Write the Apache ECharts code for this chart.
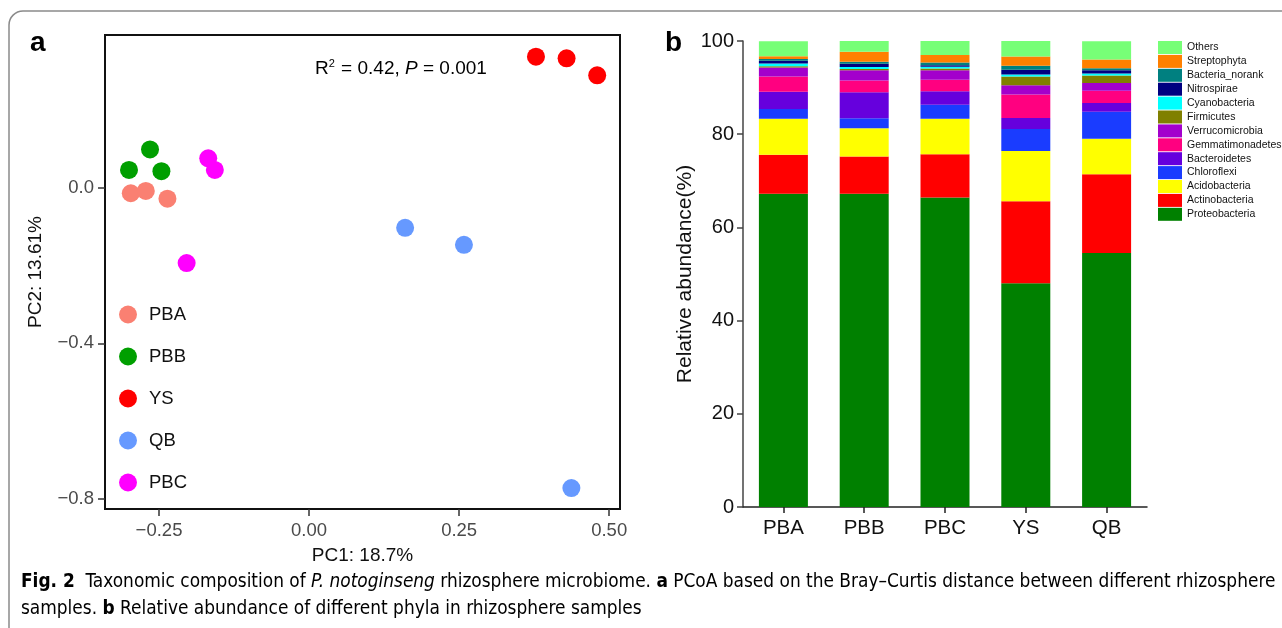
<!DOCTYPE html>
<html>
<head>
<meta charset="utf-8">
<script src="https://cdn.jsdelivr.net/npm/echarts@6/dist/echarts.min.js"></script>
<style>
html,body{margin:0;padding:0;background:#fff;}
#c{width:1282px;height:628px;}
</style>
</head>
<body>
<div id="c"></div>
<script>
// ---------- Panel a: PCoA ----------
const groupNames = ['PBA', 'PBB', 'YS', 'QB', 'PBC'];
const groupColors = ['#FA8072', '#009F00', '#FF0000', '#6699FF', '#FF00FF'];
const pbaPoints = [[-0.297, -0.013], [-0.272, -0.007], [-0.236, -0.027]];
const pbbPoints = [[-0.300, 0.047], [-0.265, 0.100], [-0.246, 0.044]];
const ysPoints = [[0.378, 0.339], [0.429, 0.335], [0.480, 0.291]];
const qbPoints = [[0.160, -0.102], [0.258, -0.146], [0.437, -0.773]];
const pbcPoints = [[-0.168, 0.077], [-0.157, 0.047], [-0.204, -0.193]];
const pcoaXRange = [-0.34, 0.518];
const pcoaYRange = [-0.827, 0.395];
const pcoaXTicks = [-0.25, 0, 0.25, 0.5];
const pcoaYTicks = [-0.8, -0.4, 0];

// ---------- Panel b: stacked relative abundance ----------
const barCategories = ['PBA', 'PBB', 'PBC', 'YS', 'QB'];
const proteobacteria   = [67.2, 67.2, 66.4, 48.0, 54.5];
const actinobacteria   = [8.4, 8.0, 9.3, 17.6, 16.9];
const acidobacteria    = [7.7, 6.1, 7.6, 10.8, 7.6];
const chloroflexi      = [2.1, 2.1, 3.0, 4.7, 5.8];
const bacteroidetes    = [3.7, 5.6, 2.9, 2.4, 1.9];
const gemmatimonadetes = [3.3, 2.5, 2.5, 5.0, 2.6];
const verrucomicrobia  = [1.9, 2.2, 2.0, 2.0, 1.7];
const firmicutes       = [0.3, 0.3, 0.4, 1.9, 1.6];
const cyanobacteria    = [0.55, 0.43, 0.36, 0.43, 0.43];
const nitrospirae      = [0.6, 0.7, 0.36, 1.0, 0.7];
const bacteriaNorank   = [0.4, 0.43, 0.57, 0.86, 0.43];
const streptophyta     = [0.6, 2.15, 1.6, 2.0, 1.86];
const others           = [3.2, 2.28, 3.0, 3.3, 3.93];

const phyla = [
  ['Proteobacteria', proteobacteria, '#008000'],
  ['Actinobacteria', actinobacteria, '#FF0000'],
  ['Acidobacteria', acidobacteria, '#FFFF00'],
  ['Chloroflexi', chloroflexi, '#1A3CFF'],
  ['Bacteroidetes', bacteroidetes, '#6600DD'],
  ['Gemmatimonadetes', gemmatimonadetes, '#FF0080'],
  ['Verrucomicrobia', verrucomicrobia, '#A300CC'],
  ['Firmicutes', firmicutes, '#808000'],
  ['Cyanobacteria', cyanobacteria, '#00FFFF'],
  ['Nitrospirae', nitrospirae, '#000080'],
  ['Bacteria_norank', bacteriaNorank, '#008080'],
  ['Streptophyta', streptophyta, '#FF8000'],
  ['Others', others, '#77FF77']
];

const FONT = "'Liberation Sans', Arial, sans-serif";
const NARROW = "'DejaVu Sans Condensed', 'Liberation Sans', sans-serif";

// PCoA plotting box (pixels)
const PB = {left: 105, top: 35, width: 515, height: 474};
const xSpan = pcoaXRange[1] - pcoaXRange[0];
const ySpan = pcoaYRange[1] - pcoaYRange[0];
const tx0 = PB.left + (pcoaXTicks[0] - pcoaXRange[0]) / xSpan * PB.width;
const tx1 = PB.left + (pcoaXTicks[pcoaXTicks.length - 1] - pcoaXRange[0]) / xSpan * PB.width;
const ty0 = PB.top + (pcoaYRange[1] - pcoaYTicks[pcoaYTicks.length - 1]) / ySpan * PB.height;
const ty1 = PB.top + (pcoaYRange[1] - pcoaYTicks[0]) / ySpan * PB.height;

const chart = echarts.init(document.getElementById('c'), null, {renderer: 'canvas'});

const scatterSeries = [pbaPoints, pbbPoints, ysPoints, qbPoints, pbcPoints].map((pts, i) => ({
  name: groupNames[i],
  type: 'scatter',
  xAxisIndex: 0, yAxisIndex: 0,
  symbol: 'circle',
  symbolSize: 18,
  itemStyle: {color: groupColors[i], opacity: 1},
  data: pts,
  z: 3
}));

const barSeries = phyla.map(([name, vals, color]) => ({
  name: name,
  type: 'bar',
  stack: 'ab',
  xAxisIndex: 1, yAxisIndex: 1,
  barWidth: 49,
  itemStyle: {color: color},
  data: vals
}));

const hiddenAxis = (gi) => ({gridIndex: gi, type: 'value', show: false, min: 0, max: 1});
const TICKCOL = '#333';

const option = {
  animation: false,
  backgroundColor: '#fff',
  textStyle: {fontFamily: FONT},
  grid: [
    {left: PB.left, top: PB.top, width: PB.width, height: PB.height, show: true, borderColor: '#111', borderWidth: 2, backgroundColor: 'transparent'},
    {left: 743, top: 41, width: 404, height: 466},
    {left: tx0, top: PB.top, width: tx1 - tx0, height: PB.height},
    {left: PB.left, top: ty0, width: PB.width, height: ty1 - ty0}
  ],
  xAxis: [
    {
      gridIndex: 0, type: 'value', min: pcoaXRange[0], max: pcoaXRange[1],
      name: 'PC1: 18.7%', nameLocation: 'middle', nameGap: 37,
      nameTextStyle: {fontSize: 19, color: '#111', fontFamily: FONT},
      axisLine: {show: false, onZero: false}, axisTick: {show: false}, axisLabel: {show: false},
      splitLine: {show: false}
    },
    {
      gridIndex: 1, type: 'category', data: barCategories,
      axisLine: {show: true, lineStyle: {color: '#222', width: 1.5}},
      axisTick: {show: true, alignWithLabel: true, length: 6, lineStyle: {color: '#222', width: 1.5}},
      axisLabel: {fontSize: 20.5, color: '#111', margin: 11, fontFamily: FONT},
      splitLine: {show: false}
    },
    {
      gridIndex: 2, type: 'value', min: pcoaXTicks[0], max: pcoaXTicks[pcoaXTicks.length - 1], interval: 0.25,
      position: 'bottom',
      axisLine: {show: true, onZero: false, lineStyle: {color: 'rgba(0,0,0,0)'}},
      axisTick: {show: true, inside: false, length: 7, lineStyle: {color: TICKCOL, width: 1.5}},
      axisLabel: {show: true, margin: 12, fontSize: 18.5, color: '#4a4a4a', fontFamily: FONT,
        showMinLabel: true, showMaxLabel: true,
        formatter: v => (v < 0 ? '\u2212' : '') + Math.abs(v).toFixed(2)},
      splitLine: {show: false}
    },
    hiddenAxis(3)
  ],
  yAxis: [
    {
      gridIndex: 0, type: 'value', min: pcoaYRange[0], max: pcoaYRange[1],
      name: 'PC2: 13.61%', nameLocation: 'middle', nameGap: 60, nameRotate: 90,
      nameTextStyle: {fontSize: 19, color: '#111', fontFamily: FONT},
      axisLine: {show: false, onZero: false}, axisTick: {show: false}, axisLabel: {show: false},
      splitLine: {show: false}
    },
    {
      gridIndex: 1, type: 'value', min: 0, max: 100, interval: 20,
      name: 'Relative abundance(%)', nameLocation: 'middle', nameGap: 47,
      nameTextStyle: {fontSize: 21, color: '#111', fontFamily: FONT},
      axisLine: {show: true, lineStyle: {color: '#444', width: 1.5}},
      axisTick: {show: true, length: 6, lineStyle: {color: '#444', width: 1.5}},
      axisLabel: {fontSize: 20, color: '#111', margin: 9, fontFamily: FONT},
      splitLine: {show: false}
    },
    hiddenAxis(2),
    {
      gridIndex: 3, type: 'value', min: pcoaYTicks[0], max: pcoaYTicks[pcoaYTicks.length - 1], interval: 0.4,
      position: 'left',
      axisLine: {show: true, onZero: false, lineStyle: {color: 'rgba(0,0,0,0)'}},
      axisTick: {show: true, inside: false, length: 7, lineStyle: {color: TICKCOL, width: 1.5}},
      axisLabel: {show: true, margin: 11, fontSize: 18.5, color: '#4a4a4a', fontFamily: FONT,
        showMinLabel: true, showMaxLabel: true,
        formatter: v => (v < 0 ? '\u2212' : '') + Math.abs(v).toFixed(1)},
      splitLine: {show: false}
    }
  ],
  legend: [
    {
      data: groupNames,
      orient: 'vertical', left: 119, top: 305, padding: 0,
      icon: 'circle', itemWidth: 18, itemHeight: 18, itemGap: 23,
      textStyle: {fontSize: 18.5, color: '#111', fontFamily: FONT, padding: [0, 0, 0, 7]},
      selectedMode: false
    },
    {
      data: phyla.map(p => p[0]).reverse(),
      orient: 'vertical', left: 1158, top: 41, padding: 0,
      icon: 'rect', itemWidth: 24, itemHeight: 13, itemGap: 0.9,
      textStyle: {fontSize: 10.5, color: '#111', fontFamily: FONT, lineHeight: 13},
      selectedMode: false
    }
  ],
  graphic: [
    {type: 'rect', z: -1, silent: true,
      shape: {x: 9, y: 11, width: 1400, height: 700, r: 14},
      style: {fill: 'none', stroke: '#8a8a8a', lineWidth: 1.5}},
    {type: 'text', left: 30, top: 29,
      style: {text: 'a', font: "bold 28px 'Liberation Sans', Arial, sans-serif", fill: '#000'}},
    {type: 'text', left: 665, top: 29,
      style: {text: 'b', font: "bold 28px 'Liberation Sans', Arial, sans-serif", fill: '#000'}},
    {type: 'text', left: 315, top: 58,
      style: {
        text: '{r|R}{s|2}{r| = 0.42, }{i|P}{r| = 0.001}',
        rich: {
          r: {fontSize: 19, fontFamily: FONT, color: '#111'},
          i: {fontSize: 19, fontFamily: FONT, fontStyle: 'italic', color: '#111'},
          s: {fontSize: 11, fontFamily: FONT, color: '#111', padding: [0, 1, 10, 0]}
        }
      }},
    {type: 'text', left: 21, top: 573,
      style: {
        text: '{b|Fig. 2}{n|  Taxonomic composition of }{i|P. notoginseng}{n| rhizosphere microbiome. }{b|a}{n| PCoA based on the Bray\u2013Curtis distance between different rhizosphere}',
        rich: {
          b: {fontSize: 18.9, fontFamily: NARROW, fontWeight: 'bold', color: '#222'},
          n: {fontSize: 18.9, fontFamily: NARROW, color: '#333'},
          i: {fontSize: 18.9, fontFamily: NARROW, fontStyle: 'italic', color: '#333'}
        }
      }},
    {type: 'text', left: 21, top: 600,
      style: {
        text: '{n|samples. }{b|b}{n| Relative abundance of different phyla in rhizosphere samples}',
        rich: {
          b: {fontSize: 18.9, fontFamily: NARROW, fontWeight: 'bold', color: '#222'},
          n: {fontSize: 18.9, fontFamily: NARROW, color: '#333'}
        }
      }}
  ],
  series: scatterSeries.concat(barSeries)
};

chart.setOption(option);
</script>
</body>
</html>
